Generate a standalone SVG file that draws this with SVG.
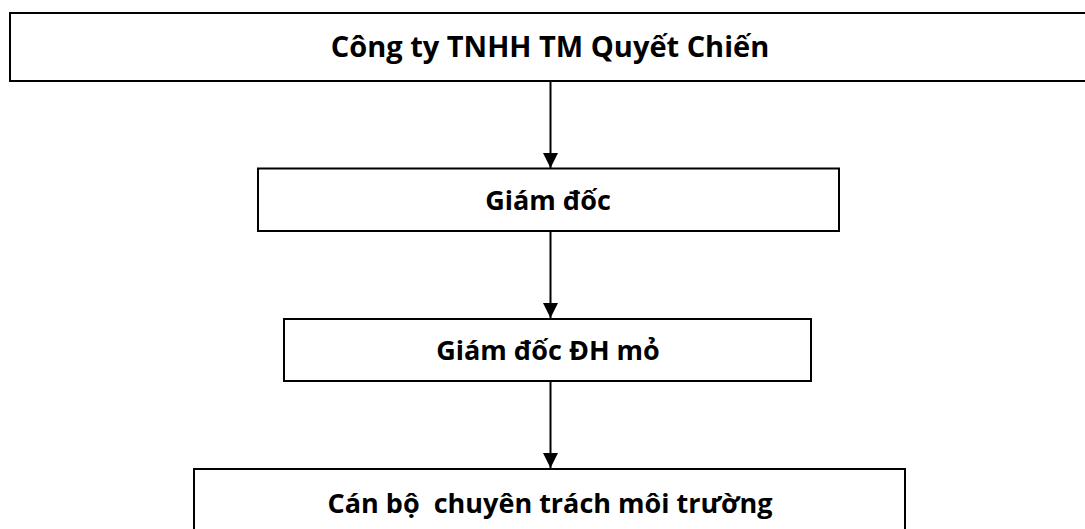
<svg xmlns="http://www.w3.org/2000/svg" width="1085" height="529" viewBox="0 0 1085 529">
<style>
.box{fill:#fff;stroke:#000;stroke-width:2}
.lbl{font-family:"Open Sans","Liberation Sans",sans-serif;font-weight:bold;fill:#000;text-anchor:middle}
.con{stroke:#000;stroke-width:2;fill:none}
</style>
<defs>
<marker id="ah" markerUnits="userSpaceOnUse" markerWidth="16" markerHeight="16" refX="15" refY="8" orient="auto">
<path d="M0,0.5 L15,8 L0,15.5 Z" fill="#000"/>
</marker>
</defs>
<rect width="1085" height="529" fill="#fff"/>
<g id="n1"><rect class="box" x="10" y="13" width="1085" height="68"/><text class="lbl" x="550" y="57" font-size="29">Công ty TNHH TM Quyết Chiến</text></g>
<g id="n2"><rect class="box" x="258" y="168.5" width="581" height="62.5"/><text class="lbl" x="548" y="210" font-size="27">Giám đốc</text></g>
<g id="n3"><rect class="box" x="284" y="319" width="527" height="62"/><text class="lbl" x="548" y="360" font-size="27">Giám đốc ĐH mỏ</text></g>
<g id="n4"><rect class="box" x="194" y="469" width="711" height="70"/><text class="lbl" x="550" y="513" font-size="27" xml:space="preserve">Cán bộ  chuyên trách môi trường</text></g>
<g id="connectors">
<line class="con" x1="550.5" y1="81" x2="550.5" y2="168" marker-end="url(#ah)"/>
<line class="con" x1="550.5" y1="231" x2="550.5" y2="318" marker-end="url(#ah)"/>
<line class="con" x1="550.5" y1="381" x2="550.5" y2="468" marker-end="url(#ah)"/>
</g>
</svg>
